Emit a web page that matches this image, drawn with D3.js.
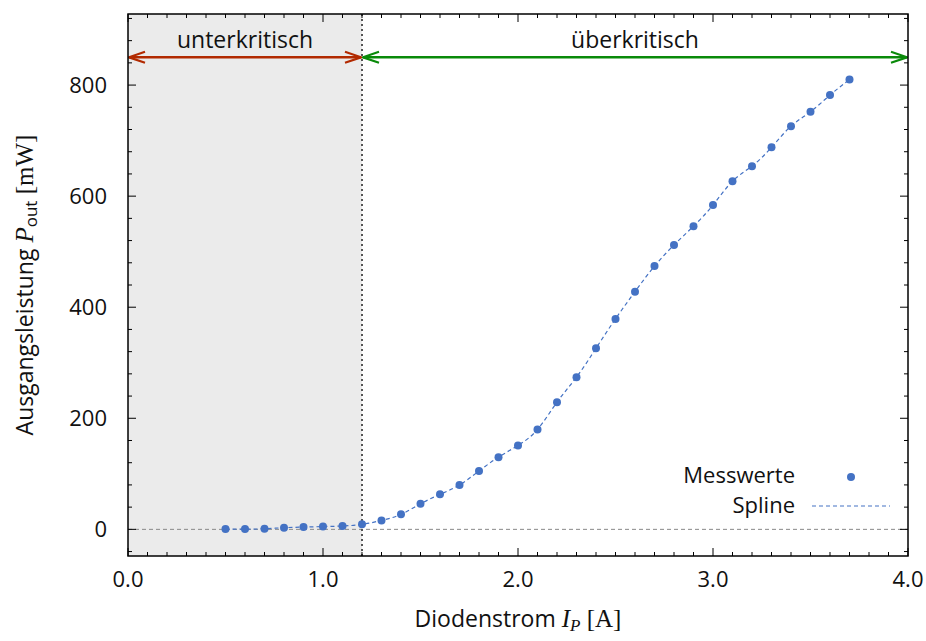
<!DOCTYPE html>
<html>
<head>
<meta charset="utf-8">
<script src="https://cdn.jsdelivr.net/npm/d3@7"></script>
<style>
  body { margin: 0; background: #fff; }
  text { font-family: "Open Sans", "DejaVu Sans", sans-serif; fill: #111; }
  .math { font-family: "Liberation Serif", "DejaVu Serif", serif; }
</style>
</head>
<body>
<svg id="chart" width="926" height="641"></svg>
<script>
// Measured current (A) and output power (mW)
const current = [0.5, 0.6, 0.7, 0.8, 0.9, 1.0, 1.1, 1.2, 1.3, 1.4, 1.5, 1.6, 1.7,
  1.8, 1.9, 2.0, 2.1, 2.2, 2.3, 2.4, 2.5, 2.6, 2.7, 2.8, 2.9, 3.0, 3.1, 3.2, 3.3,
  3.4, 3.5, 3.6, 3.7];
const power = [0.5, 0.5, 1, 3, 4, 5, 6, 9, 16, 27, 46, 63, 80,
  105, 130, 151, 180, 229, 274, 326, 379, 428, 474, 512, 546, 584, 627, 654, 688,
  726, 752, 782, 810];
const xTicks = [0, 1, 2, 3, 4];
const yTicks = [0, 200, 400, 600, 800];
const threshold = 1.2;
const regionLabels = ['unterkritisch', 'überkritisch'];
const legendLabels = ['Messwerte', 'Spline'];

const svg = d3.select('#chart');
const plotLeft = 128;
const plotRight = 908;
const plotTop = 14;
const plotBottom = 556;
const blue = '#4472c4';
const labelSize = 23;
const tickSize = 22;

const x = d3.scaleLinear().domain([0, 4]).range([plotLeft, plotRight]);
const y = d3.scaleLinear().domain([-48, 928]).range([plotBottom, plotTop]);

// shaded sub-threshold region
svg.append('rect')
  .attr('x', x(0))
  .attr('y', plotTop)
  .attr('width', x(threshold) - x(0))
  .attr('height', plotBottom - plotTop)
  .attr('fill', '#ebebeb');

// zero line
svg.append('line')
  .attr('x1', plotLeft).attr('x2', plotRight)
  .attr('y1', y(0)).attr('y2', y(0))
  .attr('stroke', '#888')
  .attr('stroke-width', 1)
  .attr('stroke-dasharray', '4,3');

// threshold line
svg.append('line')
  .attr('x1', x(threshold)).attr('x2', x(threshold))
  .attr('y1', plotTop).attr('y2', plotBottom)
  .attr('stroke', '#555')
  .attr('stroke-width', 2)
  .attr('stroke-dasharray', '2,3');

// ticks on all four sides, pointing inward
const xMinor = d3.range(0, 40.5).map((d) => d / 10);
const yMinor = d3.range(-40, 921, 40);
const tickG = svg.append('g').attr('stroke', '#000').attr('stroke-width', 1);
xMinor.forEach((v) => {
  const len = xTicks.includes(Math.round(v * 10) / 10) ? 8 : 4;
  tickG.append('line').attr('x1', x(v)).attr('x2', x(v))
    .attr('y1', plotBottom).attr('y2', plotBottom - len);
  tickG.append('line').attr('x1', x(v)).attr('x2', x(v))
    .attr('y1', plotTop).attr('y2', plotTop + len);
});
yMinor.forEach((v) => {
  const len = yTicks.includes(v) ? 8 : 4;
  tickG.append('line').attr('y1', y(v)).attr('y2', y(v))
    .attr('x1', plotLeft).attr('x2', plotLeft + len);
  tickG.append('line').attr('y1', y(v)).attr('y2', y(v))
    .attr('x1', plotRight).attr('x2', plotRight - len);
});

// tick labels
svg.append('g').selectAll('text')
  .data(xTicks)
  .join('text')
  .attr('x', (d) => x(d))
  .attr('y', 587)
  .attr('text-anchor', 'middle')
  .attr('font-size', tickSize)
  .text((d) => d3.format('.1f')(d));

svg.append('g').selectAll('text')
  .data(yTicks)
  .join('text')
  .attr('x', 107)
  .attr('y', (d) => y(d) + 7.5)
  .attr('text-anchor', 'end')
  .attr('font-size', tickSize)
  .text((d) => d);

// spline + points
const line = d3.line()
  .x((d, i) => x(current[i]))
  .y((d) => y(d))
  .curve(d3.curveNatural);

svg.append('path')
  .datum(power)
  .attr('d', line)
  .attr('fill', 'none')
  .attr('stroke', blue)
  .attr('stroke-width', 1.2)
  .attr('stroke-dasharray', '4,3');

svg.append('g').selectAll('circle')
  .data(power)
  .join('circle')
  .attr('cx', (d, i) => x(current[i]))
  .attr('cy', (d) => y(d))
  .attr('r', 4)
  .attr('fill', blue);

// region arrows
const defs = svg.append('defs');
[['arrRed', '#b22a00'], ['arrGreen', '#0a8a0a']].forEach(([id, c]) => {
  defs.append('marker')
    .attr('id', id)
    .attr('viewBox', '-18 -7 19 14')
    .attr('refX', 0).attr('refY', 0)
    .attr('markerWidth', 19).attr('markerHeight', 14)
    .attr('markerUnits', 'userSpaceOnUse')
    .attr('orient', 'auto-start-reverse')
    .append('path')
    .attr('d', 'M-16,-5.5 L0,0 L-16,5.5')
    .attr('fill', 'none')
    .attr('stroke', c)
    .attr('stroke-width', 2.2);
});

const arrowY = y(850);
svg.append('line')
  .attr('x1', x(0) + 1).attr('x2', x(threshold) - 1)
  .attr('y1', arrowY).attr('y2', arrowY)
  .attr('stroke', '#b22a00').attr('stroke-width', 2.5)
  .attr('marker-start', 'url(#arrRed)')
  .attr('marker-end', 'url(#arrRed)');
svg.append('line')
  .attr('x1', x(threshold) + 1).attr('x2', x(4) - 1)
  .attr('y1', arrowY).attr('y2', arrowY)
  .attr('stroke', '#0a8a0a').attr('stroke-width', 2.5)
  .attr('marker-start', 'url(#arrGreen)')
  .attr('marker-end', 'url(#arrGreen)');

svg.append('text')
  .attr('x', x(threshold / 2)).attr('y', 48)
  .attr('text-anchor', 'middle').attr('font-size', labelSize)
  .text(regionLabels[0]);
svg.append('text')
  .attr('x', x((threshold + 4) / 2)).attr('y', 48)
  .attr('text-anchor', 'middle').attr('font-size', labelSize)
  .text(regionLabels[1]);

// frame
svg.append('rect')
  .attr('x', plotLeft).attr('y', plotTop)
  .attr('width', plotRight - plotLeft).attr('height', plotBottom - plotTop)
  .attr('fill', 'none')
  .attr('stroke', '#000')
  .attr('stroke-width', 1.5);

// legend
svg.append('text')
  .attr('x', 795).attr('y', 483)
  .attr('text-anchor', 'end').attr('font-size', 22)
  .text(legendLabels[0]);
svg.append('circle')
  .attr('cx', 851).attr('cy', 477).attr('r', 4).attr('fill', blue);
svg.append('text')
  .attr('x', 795).attr('y', 513)
  .attr('text-anchor', 'end').attr('font-size', 22)
  .text(legendLabels[1]);
svg.append('line')
  .attr('x1', 812).attr('x2', 890)
  .attr('y1', 506).attr('y2', 506)
  .attr('stroke', blue).attr('stroke-width', 1.2)
  .attr('stroke-dasharray', '4,3');

// axis titles
const xTitle = svg.append('text')
  .attr('x', 518).attr('y', 627)
  .attr('text-anchor', 'middle').attr('font-size', labelSize);
xTitle.append('tspan').text('Diodenstrom ');
xTitle.append('tspan').attr('class', 'math').attr('font-style', 'italic')
  .attr('font-size', 25).text('I');
xTitle.append('tspan').attr('class', 'math').attr('font-style', 'italic')
  .attr('font-size', 17).attr('dy', 4).text('P');
xTitle.append('tspan').attr('class', 'math').attr('font-size', 25)
  .attr('dy', -4).text(' [A]');

const yTitle = svg.append('text')
  .attr('transform', 'translate(33,285) rotate(-90)')
  .attr('text-anchor', 'middle').attr('font-size', labelSize);
yTitle.append('tspan').text('Ausgangsleistung ');
yTitle.append('tspan').attr('class', 'math').attr('font-style', 'italic')
  .attr('font-size', 25).text('P');
yTitle.append('tspan').attr('font-size', 17).attr('dy', 4).text('out');
yTitle.append('tspan').attr('class', 'math').attr('font-size', 25)
  .attr('dy', -4).text(' [mW]');
</script>
</body>
</html>
